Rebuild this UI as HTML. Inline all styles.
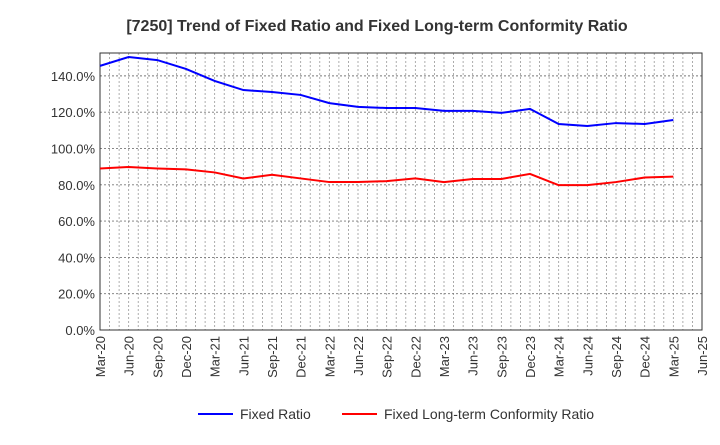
<!DOCTYPE html>
<html><head><meta charset="utf-8"><style>
body{margin:0;background:#fff;font-family:"Liberation Sans",sans-serif}
svg text{font-family:"Liberation Sans",sans-serif}
</style></head><body>
<svg id="c" width="720" height="440">
<text x="377" y="31" text-anchor="middle" font-size="16" font-weight="bold" fill="#333">[7250]  Trend of Fixed Ratio and Fixed Long-term Conformity Ratio</text>
<g id="grid"></g><g id="axes"></g><g id="series"></g>
<g>
<line x1="198" y1="414" x2="233" y2="414" stroke="#0000ff" stroke-width="2"/>
<text x="240" y="419" font-size="14" fill="#333">Fixed Ratio</text>
<line x1="342" y1="414" x2="377" y2="414" stroke="#ff0000" stroke-width="2"/>
<text x="384" y="419" font-size="14" fill="#333">Fixed Long-term Conformity Ratio</text>
</g>
</svg>
<script>
const xLabels=["Mar-20","Jun-20","Sep-20","Dec-20","Mar-21","Jun-21","Sep-21","Dec-21","Mar-22","Jun-22","Sep-22","Dec-22","Mar-23","Jun-23","Sep-23","Dec-23","Mar-24","Jun-24","Sep-24","Dec-24","Mar-25","Jun-25"];
const yTicks=[0,20,40,60,80,100,120,140];
const fixedRatio=[145.5,150.4,148.7,143.8,137.2,132.2,131.1,129.5,125,122.9,122.3,122.3,120.7,120.7,119.6,121.8,113.5,112.4,114,113.5,115.7];
const conformityRatio=[89,89.8,89,88.5,86.8,83.5,85.5,83.5,81.5,81.5,82,83.5,81.5,83.2,83.2,86,79.8,79.8,81.5,84,84.5];
const L=100,R=702,T=53,B=330,YMAX=152.6;
const xs=i=>L+i*(R-L)/(xLabels.length-1);
const ys=v=>B-v/YMAX*(B-T);
const NS="http://www.w3.org/2000/svg";
function mk(p,tag,a){const e=document.createElementNS(NS,tag);for(const k in a)e.setAttribute(k,a[k]);p.appendChild(e);return e;}
const g=document.getElementById('grid'),ax=document.getElementById('axes'),se=document.getElementById('series');
for(let m=1;m<(xLabels.length-1)*3;m++){const x=L+m*(R-L)/((xLabels.length-1)*3);
const l=mk(g,'line',{x1:x,x2:x,y1:T,y2:B,stroke:'#999','stroke-dasharray':'2,2','stroke-width':0.8});

}
yTicks.forEach(v=>{const y=ys(v);
if(v>0){const l=mk(g,'line',{x1:L,x2:R,y1:y,y2:y,stroke:'#777','stroke-dasharray':'2,2','stroke-width':0.9});

}
const t=mk(ax,'text',{x:L-5,y:y+5,'text-anchor':'end','font-size':13,fill:'#333'});t.textContent=v.toFixed(1)+'%';

});
xLabels.forEach((s,i)=>{const x=xs(i);
const t=mk(ax,'text',{transform:`translate(${x+5},${B+6}) rotate(-90)`,'text-anchor':'end','font-size':13,fill:'#333'});t.textContent=s;

});
const fr=mk(ax,'rect',{x:L,y:T,width:R-L,height:B-T,fill:'none',stroke:'#333','stroke-width':1});


function line(d,c,n){const p=mk(se,'polyline',{points:d.map((v,i)=>xs(i)+','+ys(v)).join(' '),fill:'none',stroke:c,'stroke-width':2});

}
line(fixedRatio,'#0000ff','fixed-ratio-line');
line(conformityRatio,'#ff0000','conformity-ratio-line');
</script>
</body></html>
